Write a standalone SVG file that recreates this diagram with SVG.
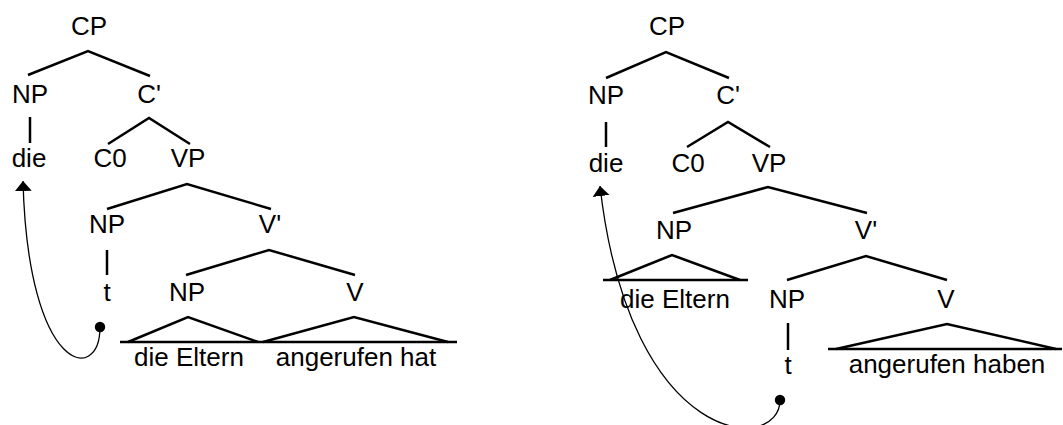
<svg xmlns="http://www.w3.org/2000/svg" width="1063" height="425" viewBox="0 0 1063 425">
  <style>
    text { font-family: "Liberation Sans", Arial, sans-serif; font-size: 26px; fill: #000; text-anchor: middle; }
    .edge { fill: none; stroke: #000; stroke-width: 2.5; stroke-linejoin: miter; }
    .move { fill: none; stroke: #000; stroke-width: 1.3; marker-start: url(#dot); marker-end: url(#head); }
  </style>
  <defs>
    <marker id="head" markerUnits="userSpaceOnUse" viewBox="0 0 10 17" markerWidth="10" markerHeight="17" refX="10" refY="8.5" orient="auto">
      <path d="M0,0 L10,8.5 L0,17 z" fill="#000"/>
    </marker>
    <marker id="dot" markerUnits="userSpaceOnUse" viewBox="-6 -6 12 12" markerWidth="12" markerHeight="12" refX="0" refY="0">
      <circle r="5.2" fill="#000"/>
    </marker>
  </defs>
  <rect width="1063" height="425" fill="#fff"/>

  <!-- tree edges, triangles and movement arrows -->
  <g id="connectors">
    <!-- left tree -->
    <path class="edge" d="M28,75 L88,51 L150,76"/>
    <path class="edge" d="M30,117 V143"/>
    <path class="edge" d="M108,144 L149,118 L190,144"/>
    <path class="edge" d="M107,209 L187,184 L271,209"/>
    <path class="edge" d="M107,250 V275"/>
    <path class="edge" d="M186,275 L269,250 L355,275"/>
    <path class="edge" d="M128,342 L188,317 L258,342"/>
    <path class="edge" d="M263,342 L354,317 L448,342"/>
    <path class="edge" d="M120,342 H457"/>
    <path class="move" d="M100,327 C100,385 28,375 23,181"/>
    <!-- right tree -->
    <path class="edge" d="M606,78 L666,52 L729,78"/>
    <path class="edge" d="M606,122 V147"/>
    <path class="edge" d="M687,147 L728,122 L770,147"/>
    <path class="edge" d="M673,213 L768,187 L867,213"/>
    <path class="edge" d="M610,280 L672,255 L740,280"/>
    <path class="edge" d="M603,280 H748"/>
    <path class="edge" d="M787,280 L866,256 L947,280"/>
    <path class="edge" d="M788,323 V350"/>
    <path class="edge" d="M836,349 L947,324 L1056,349"/>
    <path class="edge" d="M828,349 H1062"/>
    <path class="move" d="M780,400 C780,455 630,450 600,186"/>
  </g>

  <!-- left tree nodes -->
  <g id="l-cp"><text x="89" y="35">CP</text></g>
  <g id="l-np1"><text x="30" y="103">NP</text></g>
  <g id="l-cbar"><text x="149" y="103">C'</text></g>
  <g id="l-die"><text x="29" y="167">die</text></g>
  <g id="l-c0"><text x="110" y="167">C0</text></g>
  <g id="l-vp"><text x="188" y="167">VP</text></g>
  <g id="l-np2"><text x="107" y="233">NP</text></g>
  <g id="l-vbar"><text x="270" y="233">V'</text></g>
  <g id="l-t"><text x="107" y="301">t</text></g>
  <g id="l-np3"><text x="187" y="301">NP</text></g>
  <g id="l-v"><text x="355" y="301">V</text></g>
  <g id="l-eltern"><text x="189" y="366">die Eltern</text></g>
  <g id="l-verb"><text x="356" y="366">angerufen hat</text></g>

  <!-- right tree nodes -->
  <g id="r-cp"><text x="667" y="35">CP</text></g>
  <g id="r-np1"><text x="606" y="104">NP</text></g>
  <g id="r-cbar"><text x="728" y="104">C'</text></g>
  <g id="r-die"><text x="606" y="172">die</text></g>
  <g id="r-c0"><text x="688" y="172">C0</text></g>
  <g id="r-vp"><text x="769" y="172">VP</text></g>
  <g id="r-np2"><text x="674" y="239">NP</text></g>
  <g id="r-vbar"><text x="866" y="239">V'</text></g>
  <g id="r-eltern"><text x="675" y="308">die Eltern</text></g>
  <g id="r-np3"><text x="787" y="308">NP</text></g>
  <g id="r-v"><text x="946" y="308">V</text></g>
  <g id="r-t"><text x="788" y="374">t</text></g>
  <g id="r-verb"><text x="947" y="373">angerufen haben</text></g>
</svg>
